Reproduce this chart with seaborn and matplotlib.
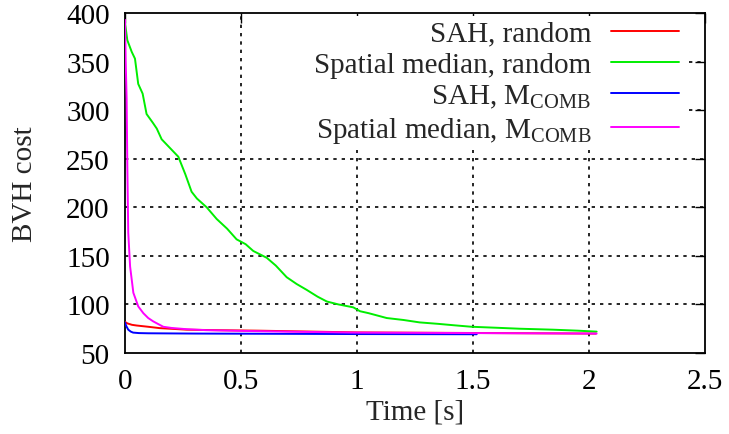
import matplotlib
matplotlib.use("Agg")
import matplotlib.pyplot as plt
from matplotlib.lines import Line2D
import numpy as np
import pandas as pd
import seaborn as sns

# ---------------- data ----------------
series_names = ["SAH, random", "Spatial median, random",
                "SAH, M$_{\\mathrm{COMB}}$", "Spatial median, M$_{\\mathrm{COMB}}$"]
series_colors = ["#ff0000", "#00ee00", "#0000ff", "#ff00ff"]

sah_random_t = [0, 0.01, 0.03, 0.05, 0.1, 0.15, 0.266, 0.4, 0.573, 1.0, 1.5, 2.03]
sah_random_v = [82, 80.5, 79, 78.3, 77, 75.6, 74, 73.5, 73, 71.2, 70.6, 70.0]

sm_random_t = [0, 0.01, 0.029, 0.043, 0.05, 0.057, 0.076, 0.093, 0.12, 0.137, 0.158,
               0.19, 0.23, 0.26, 0.287, 0.31, 0.352, 0.395, 0.44, 0.481, 0.52, 0.553,
               0.611, 0.65, 0.697, 0.74, 0.783, 0.83, 0.87, 0.92, 0.984, 1.013, 1.05,
               1.128, 1.2, 1.27, 1.35, 1.42, 1.494, 1.6, 1.70, 1.845, 1.95, 2.033]
sm_random_v = [390, 372, 360, 353, 340, 327, 317, 296, 287, 281, 270,
               262, 252, 234, 216, 209, 200, 188, 178, 167, 162, 155,
               148, 140, 128, 121, 115, 108, 103, 100, 97, 93, 91,
               86, 84, 81.5, 80, 78.5, 77, 76, 75, 74, 73, 72]

sah_comb_t = [0, 0.005, 0.014, 0.025, 0.035, 0.06, 0.1, 0.3, 0.6, 1.0, 1.516]
sah_comb_v = [81.5, 78, 74, 72, 71, 70.5, 70.3, 70, 69.8, 69.5, 69.3]

sm_comb_t = [0, 0.003, 0.007, 0.010, 0.014, 0.022, 0.036, 0.057, 0.079, 0.1, 0.122,
             0.165, 0.2, 0.266, 0.35, 0.496, 0.7, 1.0, 1.5, 2.033]
sm_comb_v = [393, 350, 312, 243, 174, 139, 112, 98, 91, 86, 82.5,
             77, 75.8, 74.5, 73.5, 72.8, 72, 71, 70.5, 70]

x_ticks = [0, 0.5, 1, 1.5, 2, 2.5]
x_tick_labels = ["0", "0.5", "1", "1.5", "2", "2.5"]
y_ticks = [50, 100, 150, 200, 250, 300, 350, 400]

# ---------------- style ----------------
sns.set_theme(style="white")
plt.rcParams["font.family"] = ["Liberation Serif", "DejaVu Serif"]
plt.rcParams["mathtext.fontset"] = "custom"
plt.rcParams["mathtext.rm"] = "Liberation Serif"
plt.rcParams["mathtext.it"] = "Liberation Serif:italic"
plt.rcParams["mathtext.bf"] = "Liberation Serif:bold"
FS = 21

frames = []
for name, t, v in zip(series_names,
                      [sah_random_t, sm_random_t, sah_comb_t, sm_comb_t],
                      [sah_random_v, sm_random_v, sah_comb_v, sm_comb_v]):
    frames.append(pd.DataFrame({"t": t, "v": v, "series": name,
                                "order": np.arange(len(t))}))
df = pd.concat(frames, ignore_index=True)

fig = plt.figure(figsize=(7.29, 4.35), dpi=100)
ax = fig.add_axes([125 / 729, 81 / 435, 580 / 729, 340 / 435])

palette = dict(zip(series_names, series_colors))
sns.lineplot(data=df, x="t", y="v", hue="series", hue_order=series_names,
             palette=palette, sort=False, estimator=None, linewidth=1.4,
             ax=ax, legend=False, zorder=3)

ax.set_xlim(0, 2.5)
ax.set_ylim(50, 400)
ax.set_xticks(x_ticks)
ax.set_xticklabels(x_tick_labels)
ax.set_yticks(y_ticks)

# grid (gnuplot style dotted)
grid_kw = dict(color="black", linewidth=1.2, linestyle=(0, (2, 3)), zorder=1)
for xv in x_ticks[1:-1]:
    ax.axvline(xv, **grid_kw)
for yv in y_ticks[1:-1]:
    if yv >= 300:
        ax.axhline(yv, xmin=0.972, xmax=1.0, **grid_kw)
    else:
        ax.axhline(yv, **grid_kw)

ax.tick_params(direction="in", length=7, width=1.0, top=True, right=True,
               colors="black", labelsize=FS)
ax.tick_params(axis="x", pad=11)
ax.tick_params(axis="y", pad=11)
for s in ax.spines.values():
    s.set_color("black")
    s.set_linewidth(1.3)

ax.set_xlabel("Time [s]", fontsize=FS, labelpad=3)
ax.set_ylabel("BVH cost", fontsize=FS, labelpad=20)

handles = [Line2D([], [], color=c, lw=1.4) for c in series_colors]
leg = ax.legend(handles, series_names, loc="upper right",
                bbox_to_anchor=(0.968, 1.0), markerfirst=False,
                fontsize=FS, frameon=True, framealpha=1.0, facecolor="white",
                edgecolor="none", fancybox=False, handlelength=2.33,
                handletextpad=0.68, labelspacing=0.17, borderpad=0.15,
                borderaxespad=0.1)
leg.set_zorder(5)
leg.get_frame().set_linewidth(0)

fig.savefig("out.png", dpi=100)
